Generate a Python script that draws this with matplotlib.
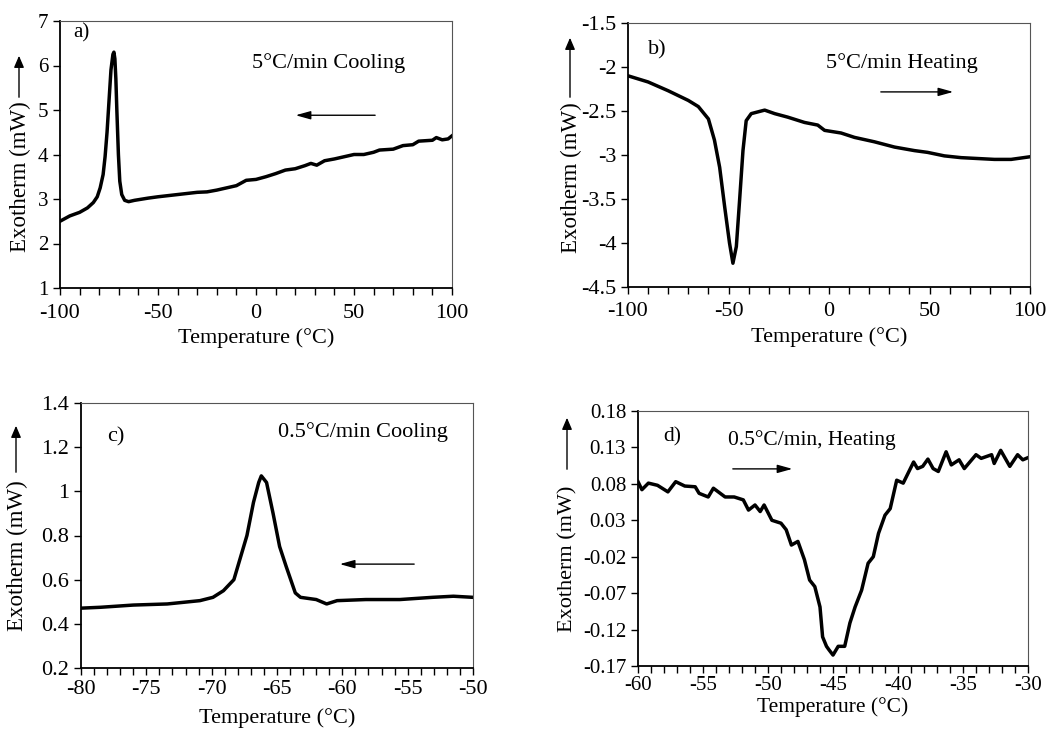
import matplotlib
matplotlib.use("Agg")
import matplotlib.pyplot as plt
from matplotlib.ticker import MultipleLocator, FixedLocator, FuncFormatter
from matplotlib.patches import FancyArrowPatch

plt.rcParams["font.family"] = ["Liberation Serif", "DejaVu Serif"]
plt.rcParams["axes.unicode_minus"] = False

# a) 5 C/min cooling
temp_a = [-100, -95, -90, -86, -83, -81, -79.5, -78, -77, -76, -75, -74, -73, -72.5,
          -72, -71.5, -71, -70.2, -69.5, -68.5, -67, -65, -62, -55, -50, -40, -30,
          -25, -20, -15, -10, -5, 0, 5, 10, 15, 20, 25, 28, 31, 35, 40, 45, 50, 55,
          60, 63, 70, 75, 80, 83, 90, 92, 95, 98, 100]
exo_a = [2.50, 2.62, 2.70, 2.80, 2.92, 3.05, 3.25, 3.55, 3.95, 4.5, 5.2, 5.9, 6.25, 6.3,
         6.15, 5.7, 5.0, 4.0, 3.4, 3.1, 2.97, 2.94, 2.97, 3.02, 3.05, 3.1, 3.15,
         3.16, 3.2, 3.25, 3.3, 3.42, 3.44, 3.5, 3.57, 3.65, 3.68, 3.75, 3.8, 3.76, 3.86,
         3.9, 3.95, 4.0, 4.0, 4.05, 4.1, 4.12, 4.2, 4.22, 4.3, 4.32, 4.38, 4.33, 4.35, 4.42]

# b) 5 C/min heating
temp_b = [-100, -90, -80, -70, -65, -60, -57, -54.4, -51.9, -49.5, -47.8, -46.1, -44.5,
          -42.8, -41.2, -38.7, -33.7, -32, -27, -20.5, -12.2, -5.6, -2.2, 6, 12.7,
          22.6, 32.6, 42.5, 49, 57.4, 65.7, 82.3, 90.6, 100]
exo_b = [-2.1, -2.17, -2.27, -2.38, -2.45, -2.59, -2.83, -3.14, -3.59, -4.0, -4.23, -4.04,
         -3.52, -2.95, -2.61, -2.53, -2.5, -2.49, -2.53, -2.57, -2.63, -2.66, -2.72, -2.75,
         -2.8, -2.85, -2.91, -2.95, -2.97, -3.01, -3.03, -3.05, -3.05, -3.02]

# c) 0.5 C/min cooling
temp_c = [-80, -78.5, -76, -73.4, -70.9, -69.9, -69.1, -68.3, -68, -67.3, -66.8, -66.4,
          -66.2, -65.8, -65.3, -64.8, -64.3, -63.6, -63.2, -62, -61.2, -60.4, -58.2,
          -55.6, -53.1, -51.5, -50]
exo_c = [0.471, 0.475, 0.485, 0.49, 0.505, 0.52, 0.55, 0.6, 0.66, 0.8, 0.95, 1.04,
         1.07, 1.04, 0.9, 0.75, 0.66, 0.54, 0.52, 0.51, 0.49, 0.505, 0.51,
         0.51, 0.52, 0.525, 0.52]

# d) 0.5 C/min heating
temp_d = [-60, -59.7, -59.2, -58.5, -57.7, -57.1, -56.4, -55.6, -55.3, -54.6, -54.2, -53.3,
          -52.6, -51.9, -51.5, -51.0, -50.6, -50.3, -49.7, -49.0, -48.6, -48.2, -47.7,
          -47.2, -46.8, -46.4, -46.0, -45.8, -45.5, -45.3, -45.0, -44.6, -44.1, -43.7,
          -43.3, -42.8, -42.3, -41.9, -41.5, -41.0, -40.6, -40.1, -39.6, -38.8, -38.5,
          -38.1, -37.7, -37.3, -36.9, -36.3, -35.9, -35.3, -34.9, -34.0, -33.6, -32.8,
          -32.6, -32.1, -31.4, -30.8, -30.4, -30]
exo_d = [0.083, 0.072, 0.081, 0.078, 0.069, 0.083, 0.077, 0.076, 0.067, 0.062, 0.074, 0.062,
         0.062, 0.058, 0.044, 0.051, 0.042, 0.051, 0.03, 0.026, 0.017, -0.004, 0.001,
         -0.024, -0.052, -0.061, -0.089, -0.13, -0.143, -0.148, -0.155, -0.143, -0.143, -0.111,
         -0.089, -0.066, -0.029, -0.02, 0.012, 0.037, 0.046, 0.085, 0.081, 0.11, 0.101,
         0.104, 0.114, 0.101, 0.097, 0.124, 0.106, 0.113, 0.101, 0.12, 0.115, 0.12,
         0.108, 0.126, 0.104, 0.12, 0.113, 0.116]
d_ticks = [0.18, 0.13, 0.08, 0.03, -0.02, -0.07, -0.12, -0.17]

W, H = 1056, 729
fig = plt.figure(figsize=(W / 100, H / 100), dpi=100)


def px_axes(left, right, top, bottom):
    return fig.add_axes([left / W, (H - bottom) / H, (right - left) / W, (bottom - top) / H])


def style(ax, tick_fs, xtick_fs, label_fs, xpad, labelpad):
    for s in ["top", "right"]:
        ax.spines[s].set_color("#555555")
        ax.spines[s].set_linewidth(0.8)
    for s in ["left", "bottom"]:
        ax.spines[s].set_linewidth(1.3)
    ax.tick_params(which="both", direction="out", width=1.0)
    ax.tick_params(axis="y", labelsize=tick_fs)
    ax.tick_params(axis="x", labelsize=xtick_fs, pad=xpad)
    ax.tick_params(which="major", length=5)
    ax.tick_params(axis="x", which="minor", length=5)
    ax.set_xlabel("Temperature (°C)", fontsize=label_fs, labelpad=labelpad)


def ylab(x, y_text, y_tail, y_head, fs):
    # rotated label plus an upward arrow drawn in figure pixels
    fig.text(x / W, (H - y_text) / H, "Exotherm (mW)", rotation=90, ha="center",
             va="center", fontsize=fs)
    fig.add_artist(FancyArrowPatch(
        ((x - 1) / W, (H - y_tail) / H), ((x - 1) / W, (H - y_head) / H),
        transform=fig.transFigure, arrowstyle="-|>,head_length=7,head_width=3",
        color="black", lw=1.0))


def harrow(ax, x0, x1, y):
    ax.annotate("", xy=(x1, y), xytext=(x0, y), xycoords="axes fraction",
                arrowprops=dict(arrowstyle="-|>,head_length=0.9,head_width=0.25",
                                color="black", lw=1.0))


gfmt = FuncFormatter(lambda v, p: f"{v:g}")

# panel a
ax = px_axes(60, 452, 21, 288)
ax.plot(temp_a, exo_a, color="black", lw=2.5)
ax.set_xlim(-100, 100)
ax.set_ylim(1, 7)
ax.xaxis.set_major_locator(MultipleLocator(50))
ax.xaxis.set_minor_locator(MultipleLocator(10))
ax.yaxis.set_major_locator(MultipleLocator(1))
style(ax, 15, 16, 16, 6.5, 4)
ax.text(0.033, 0.955, "a)", transform=ax.transAxes, fontsize=15, va="center")
ax.text(0.49, 0.843, "5°C/min Cooling", transform=ax.transAxes, fontsize=16, va="center")
harrow(ax, 0.811, 0.594, 0.647)
ylab(20, 177, 100, 53, 16.5)

# panel b
ax = px_axes(628, 1030, 23, 287)
ax.plot(temp_b, exo_b, color="black", lw=2.5)
ax.set_xlim(-100, 100)
ax.set_ylim(-4.5, -1.5)
ax.xaxis.set_major_locator(MultipleLocator(50))
ax.xaxis.set_minor_locator(MultipleLocator(10))
ax.yaxis.set_major_locator(MultipleLocator(0.5))
ax.yaxis.set_major_formatter(gfmt)
style(ax, 16, 16, 16, 6, 4)
ax.text(0.05, 0.898, "b)", transform=ax.transAxes, fontsize=16, va="center")
ax.text(0.493, 0.848, "5°C/min Heating", transform=ax.transAxes, fontsize=16, va="center")
harrow(ax, 0.622, 0.816, 0.739)
ylab(571, 178, 100, 35, 16.5)

# panel c
ax = px_axes(81, 473, 403, 668)
ax.plot(temp_c, exo_c, color="black", lw=2.5)
ax.set_xlim(-80, -50)
ax.set_ylim(0.2, 1.4)
ax.xaxis.set_major_locator(MultipleLocator(5))
ax.xaxis.set_minor_locator(MultipleLocator(1))
ax.yaxis.set_major_locator(MultipleLocator(0.2))
ax.yaxis.set_major_formatter(gfmt)
style(ax, 16, 16, 16, 3.5, 7)
ax.text(0.066, 0.872, "c)", transform=ax.transAxes, fontsize=16, va="center")
ax.text(0.503, 0.89, "0.5°C/min Cooling", transform=ax.transAxes, fontsize=16, va="center")
harrow(ax, 0.857, 0.653, 0.392)
ylab(17, 556, 475, 423, 16.5)

# panel d
ax = px_axes(638, 1028, 411, 666)
ax.plot(temp_d, exo_d, color="black", lw=2.5)
ax.set_xlim(-60, -30)
ax.set_ylim(-0.17, 0.18)
ax.xaxis.set_major_locator(MultipleLocator(5))
ax.xaxis.set_minor_locator(MultipleLocator(1))
ax.yaxis.set_major_locator(FixedLocator(d_ticks))
ax.set_yticklabels([f"{v:.2f}" for v in d_ticks])
style(ax, 15, 15, 15.5, 2.5, 1)
ax.text(0.064, 0.898, "d)", transform=ax.transAxes, fontsize=15.5, va="center")
ax.text(0.231, 0.886, "0.5°C/min, Heating", transform=ax.transAxes, fontsize=15.5, va="center")
harrow(ax, 0.236, 0.403, 0.773)
ylab(568, 559, 472, 415, 16)

fig.savefig("out.png", dpi=100)
